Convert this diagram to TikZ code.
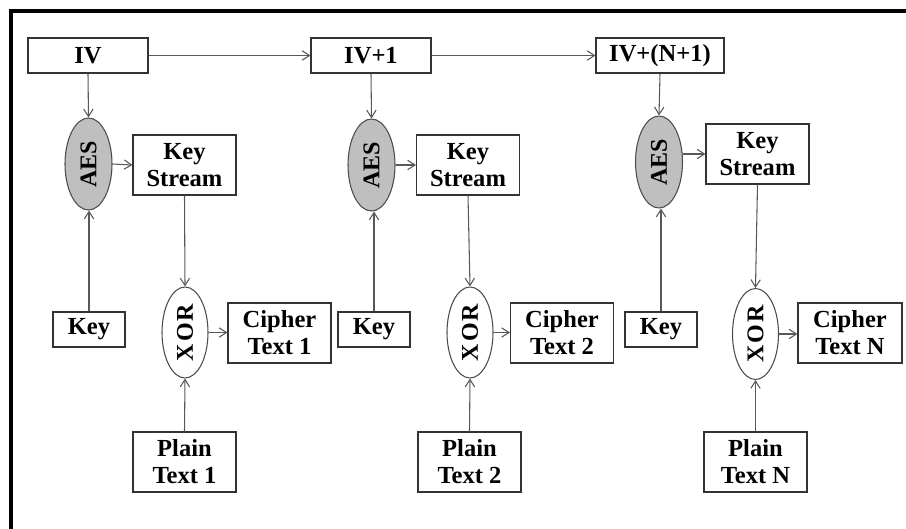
\documentclass[tikz,border=0pt]{standalone}
\usepackage{fontspec}
\setmainfont{Liberation Serif}
\newfontfamily\spacedserif[LetterSpace=8]{Liberation Serif}
\usetikzlibrary{arrows.meta,shapes.geometric}

\tikzset{
  box/.style={draw=black!80, line width=0.8pt, fill=white, inner sep=0pt,
    align=center, font=\fontsize{18.4}{20.3}\selectfont\bfseries},
  onebox/.style={box, minimum width=#1*0.75pt, minimum height=35*0.75pt},
  twobox/.style={box, minimum width=103*0.75pt, minimum height=60*0.75pt},
  aesnode/.style={ellipse, draw=black!70, line width=0.8pt, fill=black!25,
    inner sep=0pt, minimum width=47*0.75pt, minimum height=92*0.75pt,
    font=\fontsize{18}{20}\selectfont\bfseries},
  xornode/.style={ellipse, draw=black!70, line width=0.8pt, fill=white,
    inner sep=0pt, minimum width=46*0.75pt, minimum height=91*0.75pt,
    font=\fontsize{18}{20}\selectfont\spacedserif\bfseries},
  arr/.style={draw=black!65, line width=0.8pt,
    -{Straight Barb[length=5.5pt, width=7pt, line width=0.8pt]}}
}

\begin{document}
\begin{tikzpicture}[x=0.75pt, y=-0.75pt]
  \useasboundingbox (0,0) rectangle (906,528);

  % outer frame (top and left edges)
  \draw[line width=3pt, line join=miter] (11,540) -- (11,11.3) -- (920,11.3);

  % counter blocks
  \node[onebox=120] (iv)  at (88,55.5)  {IV};
  \node[onebox=120] (iv1) at (371,55.5) {IV+1};
  \node[onebox=128] (ivn) at (660,55.5) {IV+(N+1)};

  % AES encryptions
  \node[aesnode] (aes1) at (88.5,164) {\rotatebox{90}{AES}};
  \node[aesnode] (aes2) at (371.5,165) {\rotatebox{90}{AES}};
  \node[aesnode] (aes3) at (659,162) {\rotatebox{90}{AES}};

  % key streams
  \node[twobox] (ks1) at (184.5,165) {Key\\Stream};
  \node[twobox] (ks2) at (468,165)   {Key\\Stream};
  \node[twobox] (ks3) at (757.5,154) {Key\\Stream};

  % keys
  \node[onebox=72] (key1) at (89,329.5)  {Key};
  \node[onebox=72] (key2) at (374,329.5) {Key};
  \node[onebox=72] (key3) at (661,329.5) {Key};

  % XOR stages
  \node[xornode] (xor1) at (185,332.5)   {\rotatebox{90}{XOR}};
  \node[xornode] (xor2) at (470,332.5)   {\rotatebox{90}{XOR}};
  \node[xornode] (xor3) at (755.5,334)   {\rotatebox{90}{XOR}};

  % cipher texts
  \node[twobox] (ct1) at (279.5,333) {Cipher\\Text 1};
  \node[twobox] (ct2) at (562,333)   {Cipher\\Text 2};
  \node[twobox, minimum width=104*0.75pt] (ct3) at (850,333) {Cipher\\Text N};

  % plain texts
  \node[twobox] (pt1) at (184.5,462) {Plain\\Text 1};
  \node[twobox] (pt2) at (469.5,462) {Plain\\Text 2};
  \node[twobox] (pt3) at (755.5,462) {Plain\\Text N};

  % counter chain
  \draw[arr] (iv.east) -- (iv1.west);
  \draw[arr] (iv1.east) -- (ivn.west);

  % counter into AES
  \draw[arr] (iv.south) -- (aes1.north);
  \draw[arr] (iv1.south) -- (aes2.north);
  \draw[arr] (ivn.south) -- (aes3.north);

  % key into AES
  \draw[arr] (key1.north) -- (key1.north |- aes1.south);
  \draw[arr] (key2.north) -- (key2.north |- aes2.south);
  \draw[arr] (key3.north) -- (key3.north |- aes3.south);

  % AES output to key stream
  \draw[arr] (aes1.east) -- (ks1.west);
  \draw[arr] (aes2.east) -- (ks2.west);
  \draw[arr] (aes3.east |- ks3.west) -- (ks3.west);

  % key stream into XOR
  \draw[arr] (ks1.south) -- (xor1.north);
  \draw[arr] (ks2.south) -- (xor2.north);
  \draw[arr] (ks3.south) -- (xor3.north);

  % plain text into XOR
  \draw[arr] (pt1.north) -- (xor1.south);
  \draw[arr] (pt2.north) -- (xor2.south);
  \draw[arr] (pt3.north) -- (xor3.south);

  % XOR output to cipher text
  \draw[arr] (xor1.east) -- (xor1.east -| ct1.west);
  \draw[arr] (xor2.east) -- (xor2.east -| ct2.west);
  \draw[arr] (xor3.east) -- (xor3.east -| ct3.west);
\end{tikzpicture}
\end{document}
